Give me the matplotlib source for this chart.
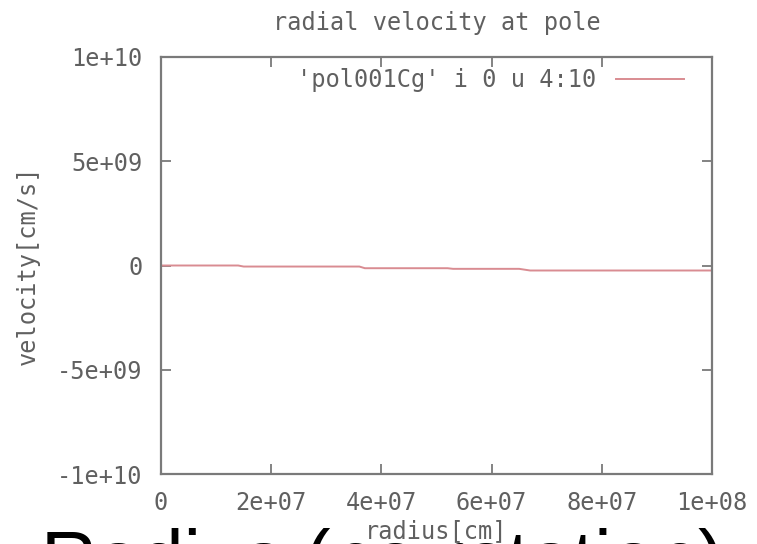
"""Radial velocity at pole (gnuplot-style look)."""
import matplotlib
matplotlib.use("Agg")
import matplotlib.pyplot as plt
from matplotlib.ticker import FuncFormatter, MultipleLocator

# data
radius = [0, 1.4e7, 1.5e7, 3.6e7, 3.7e7, 5.2e7, 5.3e7, 6.5e7, 6.7e7, 1.0e8]
velocity = [0, 0, -0.5e8, -0.5e8, -1.3e8, -1.3e8, -1.6e8, -1.6e8, -2.4e8, -2.4e8]

x_ticks = [0, 2e7, 4e7, 6e7, 8e7, 1e8]
y_ticks = [-1e10, -5e9, 0, 5e9, 1e10]

title = "radial velocity at pole"
x_label = "radius[cm]"
y_label = "velocity[cm/s]"
legend_label = "'pol001Cg' i 0 u 4:10"
caption = "Radius (no rotation)"

W, H = 757, 544
GRAY = "#606060"
AX_GRAY = "#7a7a7a"
LINE_RED = "#d98c92"
MONO = "DejaVu Sans Mono"
FS = 17

fig = plt.figure(figsize=(W / 100, H / 100), dpi=100)
left, right, top, bottom = 161, 712, 57, 474
ax = fig.add_axes([left / W, 1 - bottom / H, (right - left) / W, (bottom - top) / H])

line, = ax.plot(radius, velocity, color=LINE_RED, lw=1.4)

ax.set_xlim(x_ticks[0], x_ticks[-1])
ax.set_ylim(y_ticks[0], y_ticks[-1])
ax.xaxis.set_major_locator(MultipleLocator(2e7))
ax.yaxis.set_major_locator(MultipleLocator(5e9))
fmt = FuncFormatter(lambda v, _: "%g" % v)
ax.xaxis.set_major_formatter(fmt)
ax.yaxis.set_major_formatter(fmt)

ax.tick_params(direction="in", length=7, width=1.3, color=AX_GRAY,
               top=True, right=True, labelsize=FS, labelcolor=GRAY)
ax.tick_params(axis="y", pad=13.5)
ax.tick_params(axis="x", pad=12.5)
for lab in ax.get_xticklabels() + ax.get_yticklabels():
    lab.set_fontfamily(MONO)
for sp in ax.spines.values():
    sp.set_color(AX_GRAY)
    sp.set_linewidth(1.6)

# title and axis labels placed in pixel positions
cx = (left + right) / 2 / W
fig.text(cx, 1 - 23 / H, title, ha="center", va="center",
         fontsize=FS, family=MONO, color=GRAY)
fig.text(cx, 1 - 531 / H, x_label, ha="center", va="center",
         fontsize=FS, family=MONO, color=GRAY)
fig.text(28 / W, 1 - ((top + bottom) / 2) / H, y_label, ha="center", va="center",
         rotation=90, fontsize=FS, family=MONO, color=GRAY)

leg = ax.legend([line], [legend_label], loc="center right",
                bbox_to_anchor=(684 / W, 1 - 80 / H), bbox_transform=fig.transFigure,
                frameon=False, markerfirst=False, borderpad=0, borderaxespad=0,
                handlelength=2.9, handletextpad=0.8,
                prop={"family": MONO, "size": FS})
for t in leg.get_texts():
    t.set_color(GRAY)

# big slide caption, mostly cut off by the bottom edge
fig.text(41 / W, 1 - 585 / H, caption, ha="left", va="baseline",
         fontsize=56, family="Liberation Sans", color="black")

fig.savefig("out.png", dpi=100)
